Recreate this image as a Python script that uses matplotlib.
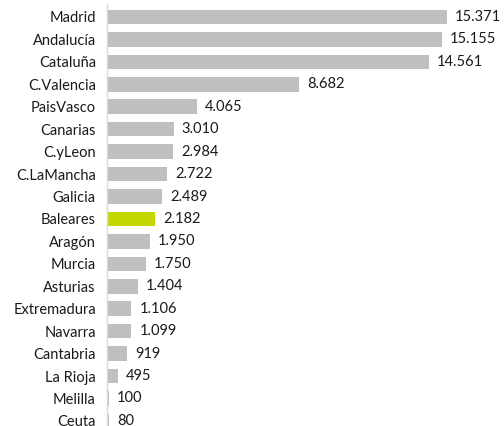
import matplotlib
matplotlib.use("Agg")
import matplotlib.pyplot as plt

regions = ["Madrid", "Andalucía", "Cataluña", "C.Valencia", "PaisVasco", "Canarias",
           "C.yLeon", "C.LaMancha", "Galicia", "Baleares", "Aragón", "Murcia",
           "Asturias", "Extremadura", "Navarra", "Cantabria", "La Rioja", "Melilla", "Ceuta"]
values = [15371, 15155, 14561, 8682, 4065, 3010, 2984, 2722, 2489, 2182, 1950, 1750,
          1404, 1106, 1099, 919, 495, 100, 80]
labels = ["15.371", "15.155", "14.561", "8.682", "4.065", "3.010", "2.984", "2.722",
          "2.489", "2.182", "1.950", "1.750", "1.404", "1.106", "1.099", "919", "495",
          "100", "80"]
highlight = "Baleares"

W, H = 504, 426
fig = plt.figure(figsize=(W / 100, H / 100), dpi=100)
plt.rcParams['font.family'] = ['Lato', 'DejaVu Sans']

# axes geometry in pixels
x0 = 107
scale = 340 / 15371  # px per unit
x1 = W
row0 = 17
step = 22.44
top_px = 4
bottom_px = H
ax = fig.add_axes([x0 / W, 1 - bottom_px / H, (x1 - x0) / W, (bottom_px - top_px) / H])
ax.set_xlim(0, (x1 - x0) / scale)
ax.set_ylim((bottom_px - row0) / step, (top_px - row0) / step)

ys = list(range(len(regions)))
colors = ["#C4D600" if r == highlight else "#BFBFBF" for r in regions]
ax.barh(ys, values, height=0.65, color=colors, left=0)
for y, v, lab in zip(ys, values, labels):
    ax.text(v + 8 / scale, y, lab, va="center", ha="left", fontsize=10.5, color="#1a1a1a")

ax.set_yticks(ys)
ax.set_yticklabels(regions, fontsize=10.5, color="#1a1a1a")
ax.tick_params(axis="y", length=0, pad=8)
ax.set_xticks([])
for s in ["top", "right", "bottom"]:
    ax.spines[s].set_visible(False)
ax.spines["left"].set_color("#D9D9D9")
ax.spines["left"].set_linewidth(1)

fig.savefig("out.png", dpi=100)
